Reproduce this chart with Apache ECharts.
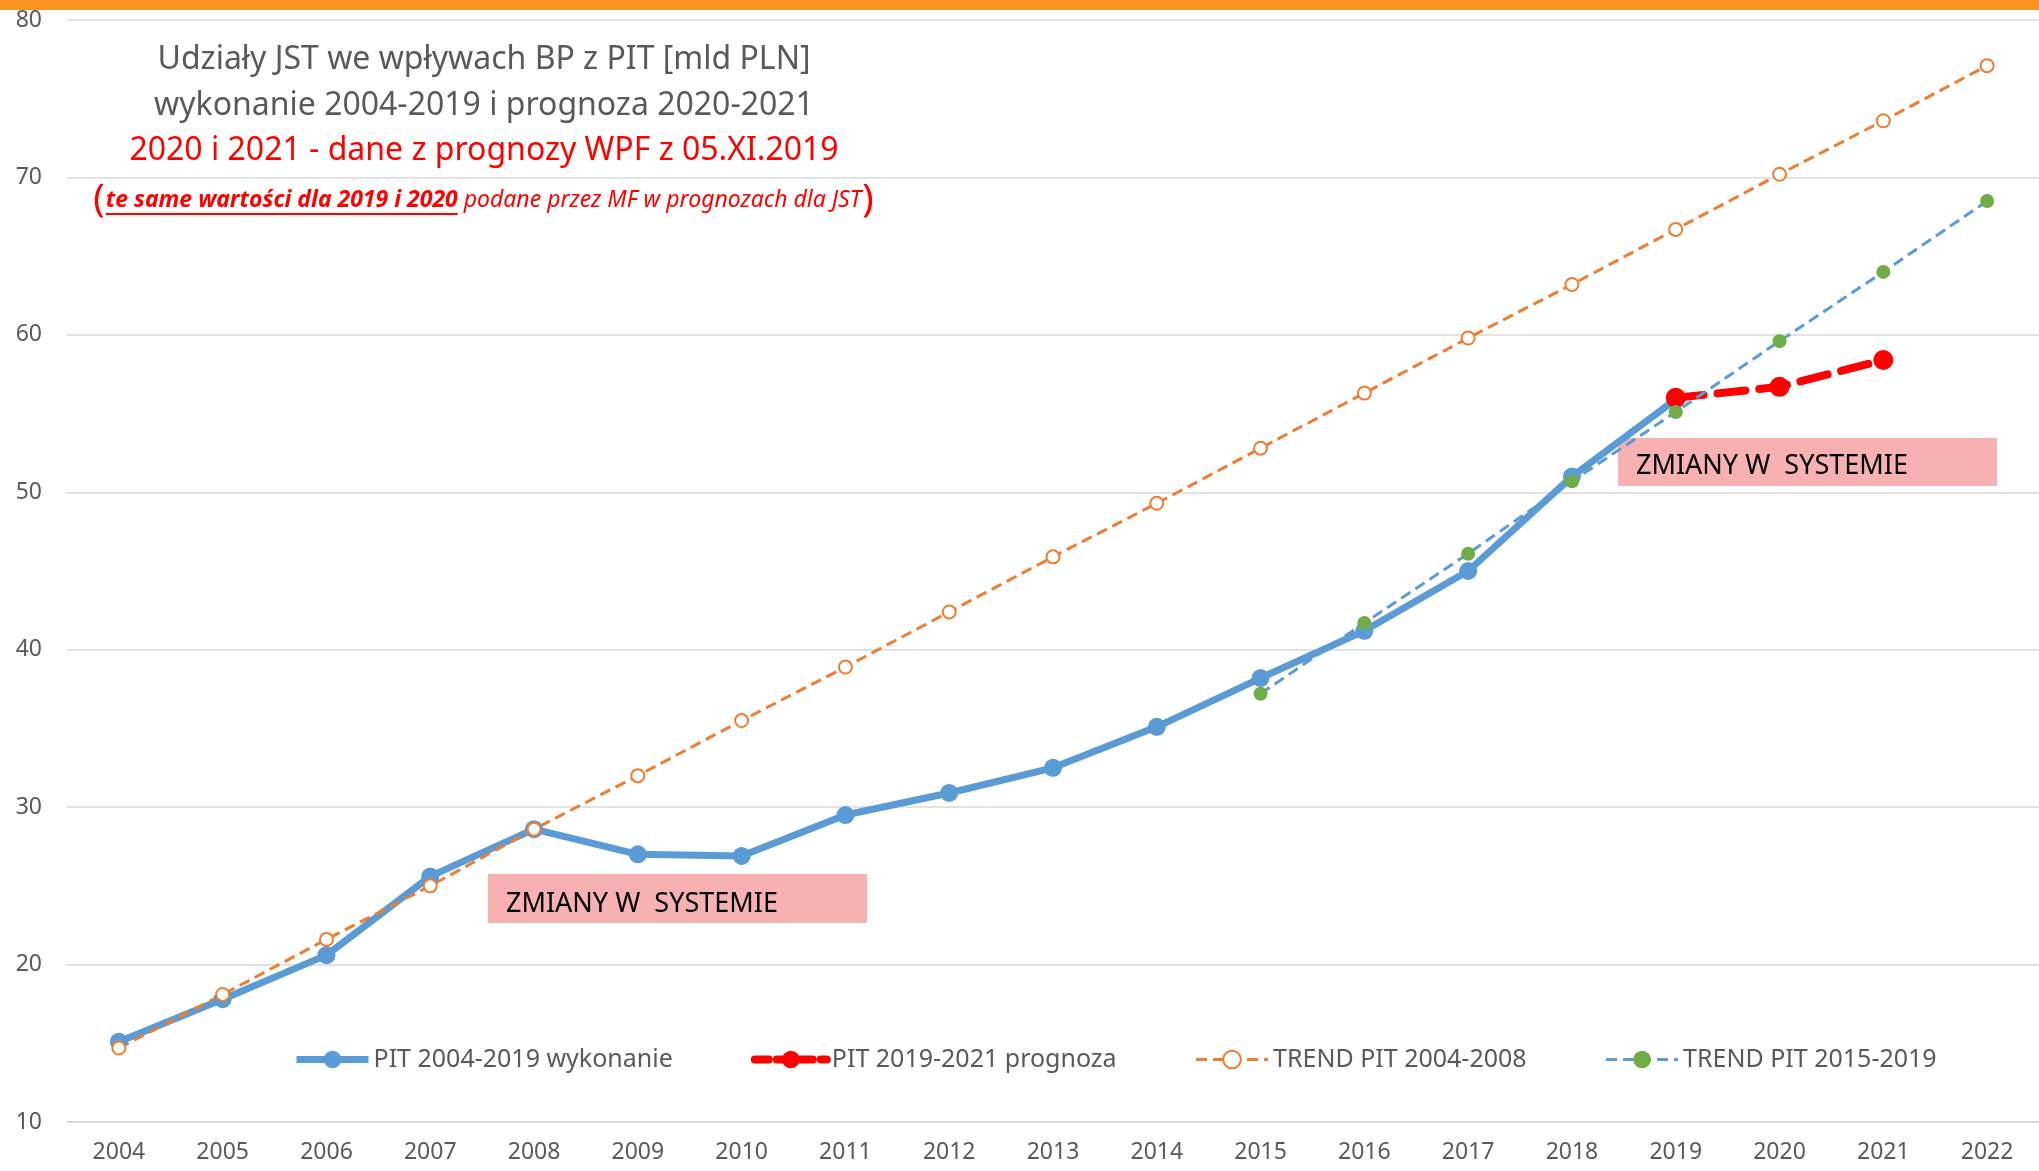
<!DOCTYPE html>
<html>
<head>
<meta charset="utf-8">
<script src="https://cdn.jsdelivr.net/npm/echarts@6/dist/echarts.min.js"></script>
<style>
  html, body { margin: 0; padding: 0; background: #fff; }
  #chart { width: 2039px; height: 1171px; }
</style>
</head>
<body>
<div id="chart"></div>
<script>
  // lata i wartości [mld PLN]
  var years = ['2004', '2005', '2006', '2007', '2008', '2009', '2010', '2011', '2012', '2013',
               '2014', '2015', '2016', '2017', '2018', '2019', '2020', '2021', '2022'];
  var pitWykonanie = [15.1, 17.8, 20.6, 25.6, 28.6, 27.0, 26.9, 29.5, 30.9, 32.5,
                      35.1, 38.2, 41.2, 45.0, 51.0, 55.9];
  var pitPrognoza = [null, null, null, null, null, null, null, null, null, null,
                     null, null, null, null, null, 56.0, 56.7, 58.4];
  var trend0408 = [14.7, 18.1, 21.6, 25.0, 28.6, 32.0, 35.5, 38.9, 42.4, 45.9,
                   49.3, 52.8, 56.3, 59.8, 63.2, 66.7, 70.2, 73.6, 77.1];
  var trend1519 = [null, null, null, null, null, null, null, null, null, null,
                   null, 37.2, 41.7, 46.1, 50.7, 55.1, 59.6, 64.0, 68.5];
  var seriesNames = ['PIT 2004-2019 wykonanie', 'PIT 2019-2021 prognoza', 'TREND PIT 2004-2008', 'TREND PIT 2015-2019'];

  var FONT = '"Noto Sans", "Open Sans", sans-serif';
  var GRAY = '#595959';
  var RED = '#ff0000';

  function textW(str, font) {
    var ctx = document.createElement('canvas').getContext('2d');
    ctx.font = font;
    return ctx.measureText(str).width;
  }

  // czwarta linia tytulu (nawias, podkreslenie) skladana z kawalkow
  var fParen = '38px ' + FONT;
  var fBold = 'italic bold 23px ' + FONT;
  var fIt = 'italic 23px ' + FONT;
  var p1 = 'te same wartości dla 2019 i 2020';
  var p2 = ' podane przez MF w prognozach dla JST';
  var wParen = textW('(', fParen);
  var wP1 = textW(p1, fBold);
  var wP2 = textW(p2, fIt);
  var total = wParen * 2 + 3 + wP1 + wP2;
  var cx = 484, y4 = 200;
  var x0 = cx - total / 2;

  var option = {
    animation: false,
    color: ['#5b9bd5', '#ff0000', '#ed7d31', '#70ad47'],
    grid: { left: 67, top: 20, width: 1976, bottom: 49 },
    xAxis: {
      type: 'category',
      data: years,
      axisTick: { show: false },
      axisLine: { lineStyle: { color: '#d9d9d9', width: 2 } },
      axisLabel: { color: GRAY, fontSize: 23, fontFamily: FONT, margin: 19 }
    },
    yAxis: {
      type: 'value',
      min: 10,
      max: 80,
      interval: 10,
      axisLine: { show: false },
      axisTick: { show: false },
      axisLabel: { color: GRAY, fontSize: 23, fontFamily: FONT, margin: 25 },
      splitLine: { lineStyle: { color: '#d9d9d9', width: 1.5 } }
    },
    legend: {
      left: 288,
      top: 1042,
      itemGap: 78,
      itemWidth: 72,
      itemHeight: 22,
      textStyle: { color: GRAY, fontSize: 25, fontFamily: FONT },
      data: [
        { name: seriesNames[0], lineStyle: { width: 7 } },
        { name: seriesNames[1], lineStyle: { width: 8, type: [14, 8] } },
        { name: seriesNames[2], lineStyle: { width: 3 } },
        { name: seriesNames[3], lineStyle: { width: 3 } }
      ]
    },
    series: [
      {
        name: seriesNames[0],
        type: 'line',
        data: pitWykonanie,
        symbol: 'circle',
        symbolSize: 18,
        lineStyle: { color: '#5b9bd5', width: 7 },
        itemStyle: { color: '#5b9bd5' },
        emphasis: { disabled: true }
      },
      {
        name: seriesNames[1],
        type: 'line',
        data: pitPrognoza,
        symbol: 'circle',
        symbolSize: 20,
        lineStyle: { color: '#ff0000', width: 8, type: [28, 14], cap: 'round' },
        itemStyle: { color: '#ff0000' },
        emphasis: { disabled: true }
      },
      {
        name: seriesNames[2],
        type: 'line',
        data: trend0408,
        symbol: 'emptyCircle',
        symbolSize: 13,
        lineStyle: { color: '#ed7d31', width: 3, type: [11, 6] },
        itemStyle: { color: '#ed7d31', borderWidth: 2.5 },
        emphasis: { disabled: true }
      },
      {
        name: seriesNames[3],
        type: 'line',
        data: trend1519,
        symbol: 'circle',
        symbolSize: 14,
        lineStyle: { color: '#5b9bd5', width: 3, type: [11, 6] },
        itemStyle: { color: '#70ad47' },
        emphasis: { disabled: true }
      }
    ],
    graphic: [
      { type: 'rect', left: 0, top: 0, z: 100, shape: { x: 0, y: 0, width: 2039, height: 10 }, style: { fill: '#f7931e' } },
      { type: 'text', x: cx, y: 60, style: { text: 'Udziały JST we wpływach BP z PIT [mld PLN]', font: '32px ' + FONT, fill: GRAY, textAlign: 'center', textVerticalAlign: 'middle' } },
      { type: 'text', x: cx, y: 106, style: { text: 'wykonanie 2004-2019 i prognoza 2020-2021', font: '32px ' + FONT, fill: GRAY, textAlign: 'center', textVerticalAlign: 'middle' } },
      { type: 'text', x: cx, y: 151, style: { text: '2020 i 2021 - dane z prognozy WPF z 05.XI.2019', font: '32px ' + FONT, fill: RED, textAlign: 'center', textVerticalAlign: 'middle' } },
      { type: 'text', x: x0, y: y4, style: { text: '(', font: fParen, fill: RED, textAlign: 'left', textVerticalAlign: 'middle' } },
      { type: 'text', x: x0 + wParen + 1, y: y4, style: { text: p1, font: fBold, fill: RED, textAlign: 'left', textVerticalAlign: 'middle' } },
      { type: 'line', shape: { x1: x0 + wParen + 1, y1: y4 + 14, x2: x0 + wParen + 1 + wP1, y2: y4 + 14 }, style: { stroke: RED, lineWidth: 2 } },
      { type: 'text', x: x0 + wParen + 1 + wP1, y: y4, style: { text: p2, font: fIt, fill: RED, textAlign: 'left', textVerticalAlign: 'middle' } },
      { type: 'text', x: x0 + wParen + 2 + wP1 + wP2, y: y4, style: { text: ')', font: fParen, fill: RED, textAlign: 'left', textVerticalAlign: 'middle' } },
      { type: 'rect', shape: { x: 488, y: 874, width: 379, height: 49 }, style: { fill: '#f8b1b1' } },
      { type: 'text', x: 506, y: 904, style: { text: 'ZMIANY W  SYSTEMIE', font: '27px ' + FONT, fill: '#000', textAlign: 'left', textVerticalAlign: 'middle' } },
      { type: 'rect', shape: { x: 1618, y: 438, width: 379, height: 48 }, style: { fill: '#f8b1b1' } },
      { type: 'text', x: 1636, y: 466, style: { text: 'ZMIANY W  SYSTEMIE', font: '27px ' + FONT, fill: '#000', textAlign: 'left', textVerticalAlign: 'middle' } }
    ]
  };

  var chart = echarts.init(document.getElementById('chart'));
  chart.setOption(option);
</script>
</body>
</html>
